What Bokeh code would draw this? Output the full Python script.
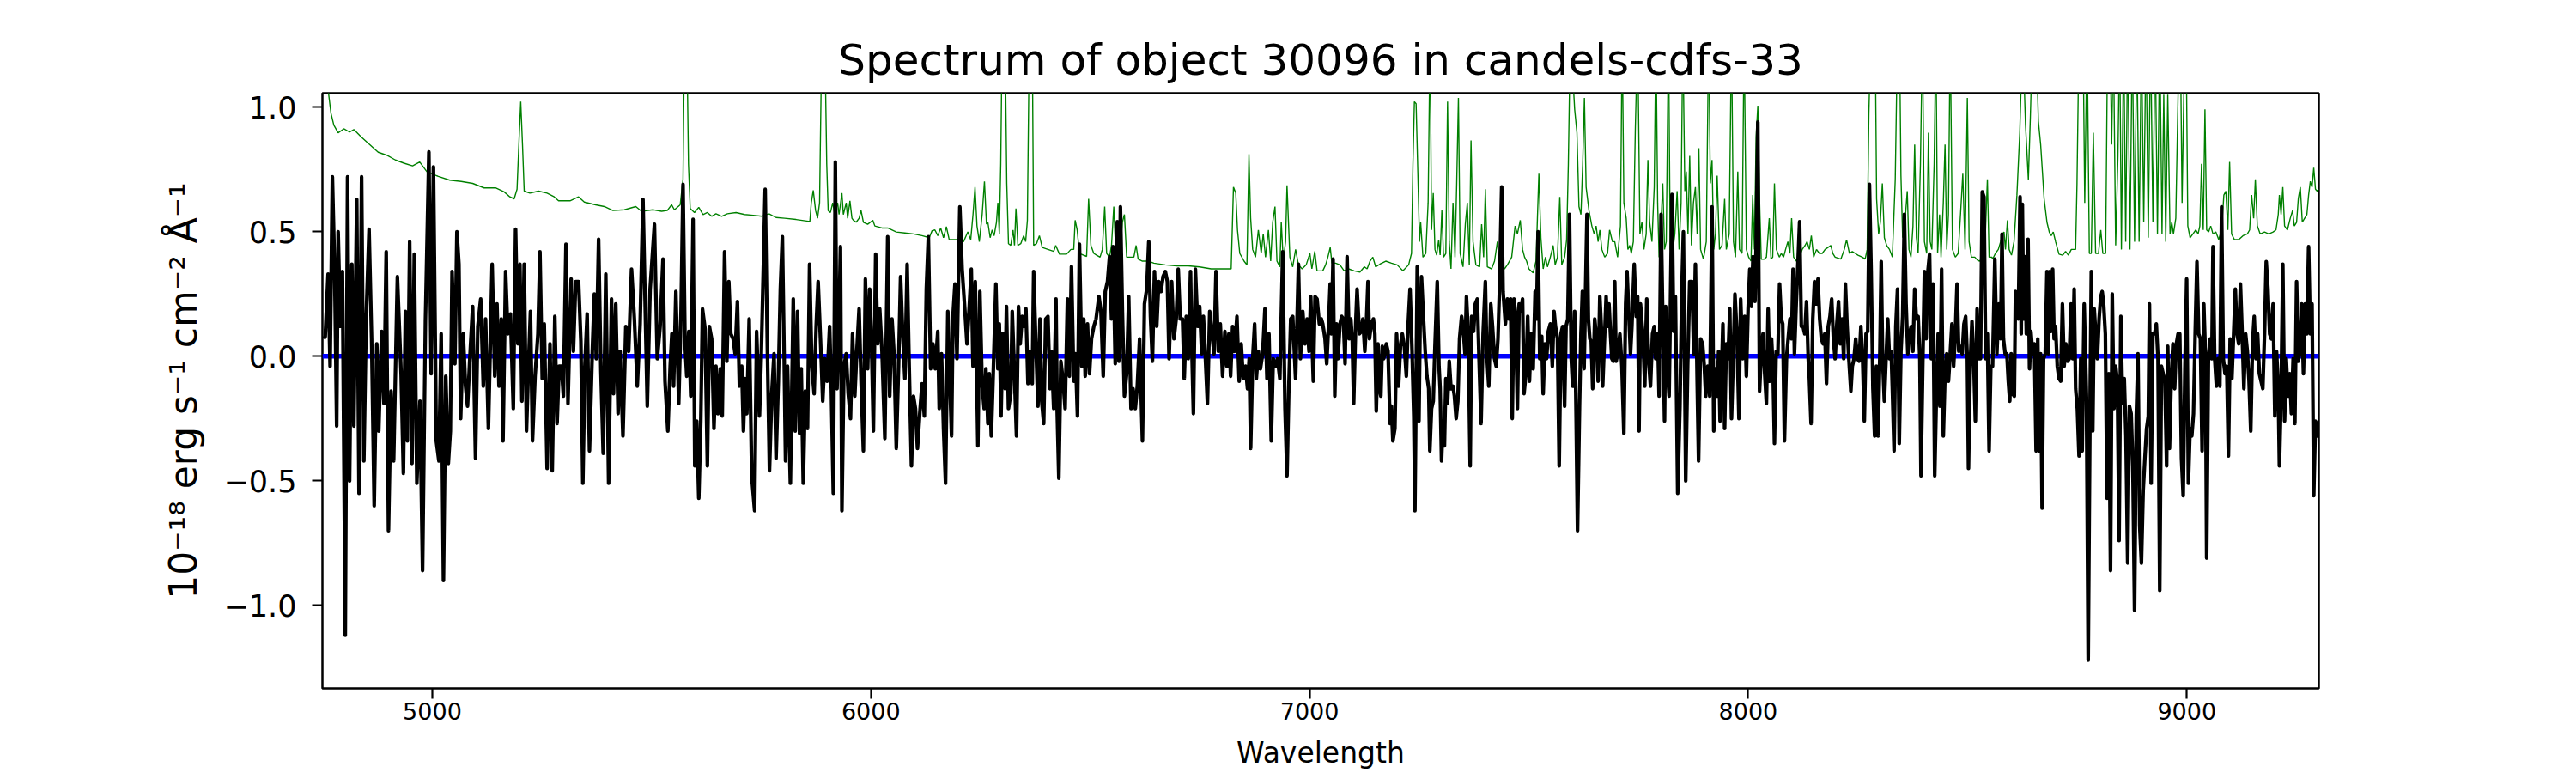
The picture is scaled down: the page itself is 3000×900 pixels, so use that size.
from bokeh.plotting import figure
from bokeh.models import Range1d, FixedTicker, Span
from bokeh.embed import file_html
from bokeh.resources import INLINE

title_text = "Spectrum of object 30096 in candels-cdfs-33"
x_label = "Wavelength"
y_label = "10⁻¹⁸ erg s⁻¹ cm⁻² Å⁻¹"
x_ticks = [5000, 6000, 7000, 8000, 9000]
y_ticks = [-1.0, -0.5, 0.0, 0.5, 1.0]
y_tick_labels = ["−1.0", "−0.5", "0.0", "0.5", "1.0"]
x_limits = (4749.5, 9301.0)
y_limits = (-1.333, 1.056)
zero_level = 0.0

flux_seg1 = [
(4752.7,0.07),(4755.9,0.08),(4762.4,0.33),(4767.0,-0.04),(4772.2,0.72),(4777.4,0.34),(4782.0,-0.28),(4785.3,0.50),(4790.5,0.12),(4795.1,0.34),
(4801.6,-1.12),(4806.8,0.72),(4811.4,-0.50),(4816.6,0.37),(4821.2,-0.28),(4827.7,0.63),(4832.9,-0.55),(4838.8,0.72),(4844.0,-0.42),(4849.2,0.15),
(4855.8,0.51),(4861.6,0.07),(4867.5,-0.60),(4873.4,0.05),(4877.9,-0.30),(4884.5,0.10),(4889.7,-0.19),(4894.9,0.42),(4900.1,-0.70),(4906.0,-0.14),
(4911.9,-0.42),(4920.4,0.32),(4928.9,-0.07),(4934.1,-0.47),(4938.6,0.18),(4943.2,-0.34),(4948.4,0.46),(4953.7,-0.43),(4958.9,0.41),(4964.7,-0.51),
(4971.9,-0.18),(4977.8,-0.86),(4984.3,0.14),(4992.2,0.82),(4997.4,-0.07),(5002.6,0.76),(5009.1,-0.34),(5015.0,-0.42),(5020.2,0.09),(5025.4,-0.90),
(5030.7,-0.08),(5036.5,-0.43),(5041.1,-0.30),(5045.0,0.34),(5051.5,-0.03),(5056.1,0.50),(5060.7,0.37),(5064.6,-0.25),(5070.5,0.09),(5075.7,-0.12),
(5080.3,-0.20),(5085.5,-0.01),(5092.0,0.20),(5098.5,-0.41),(5103.7,0.12),(5110.3,0.23),(5116.2,-0.12),(5121.4,0.15),(5127.9,-0.29),(5136.4,0.37),
(5142.3,-0.08),(5147.5,0.21),(5152.0,-0.12),(5157.2,0.15),(5161.2,-0.34),(5167.1,0.34),(5172.3,0.09),(5178.2,0.17),(5184.7,-0.21),(5189.9,0.51),
(5195.1,0.05),(5199.7,0.37),(5204.3,-0.18),(5209.5,0.37),(5214.7,-0.30),(5219.3,-0.04),(5223.8,0.18),(5228.4,-0.34),(5234.3,-0.08),(5240.8,0.09),
(5245.4,0.42),(5250.6,-0.09),(5255.2,0.13),(5261.7,-0.45),(5268.2,0.05),(5273.4,-0.46),(5279.3,0.16),(5284.5,-0.27),(5289.1,-0.04),(5294.3,-0.04),
(5298.9,-0.16),(5304.7,0.45),(5309.3,-0.19),(5316.5,0.31),(5321.7,0.02),(5326.9,0.30),(5333.5,0.30),(5338.7,0.06),(5343.2,-0.51),(5347.8,-0.04),
(5353.0,0.17),(5358.3,-0.38),(5364.8,0.02),(5369.4,0.25),(5373.9,-0.01),(5379.1,0.47),(5384.4,-0.06),(5389.6,-0.39),(5395.5,0.33),(5402.0,-0.51),
(5408.5,0.23),(5413.1,-0.15),(5418.3,0.21),(5423.5,-0.23),(5428.1,0.02),(5434.6,-0.32),(5441.2,0.12),(5447.7,0.02),(5454.2,0.35),(5460.7,0.15),
(5467.3,-0.12),(5473.8,0.13),(5480.3,0.63),(5490.1,-0.20),(5496.6,0.27),
]
flux_seg2 = [
(5506.4,0.53),(5512.9,-0.01),(5519.4,0.12),(5525.9,0.39),(5530.5,-0.10),(5537.0,-0.30),(5542.3,-0.04),(5546.2,0.09),(5550.1,-0.12),(5555.3,0.26),
(5561.8,-0.19),(5567.1,0.18),(5571.6,0.69),(5576.2,0.05),(5580.1,-0.08),(5584.7,0.10),(5589.2,-0.16),(5594.5,0.55),(5598.4,-0.44),(5602.9,-0.26),
(5607.5,-0.57),(5612.1,-0.26),(5616.0,0.19),(5621.9,0.11),(5627.1,-0.44),(5631.7,0.12),(5636.9,0.07),(5642.1,-0.29),(5646.7,-0.04),(5651.2,-0.23),
(5656.5,-0.05),(5661.0,-0.24),(5666.3,0.42),(5671.5,-0.02),(5676.0,0.30),(5680.6,0.09),(5685.8,0.07),(5690.4,0.01),(5695.6,0.22),(5700.2,-0.12),
(5705.4,-0.04),(5709.3,-0.30),(5713.2,-0.09),(5717.1,-0.23),(5722.4,0.15),(5728.2,-0.48),(5734.8,-0.62),(5739.3,0.10),(5745.9,-0.24),(5749.8,-0.01),
(5758.9,0.67),(5764.1,0.01),(5768.7,-0.46),(5773.9,-0.15),(5779.1,0.01),(5783.7,-0.41),(5788.9,-0.10),(5793.5,0.27),(5798.1,0.48),(5802.0,0.02),
(5805.3,-0.42),(5809.8,-0.04),(5816.3,-0.51),(5822.9,0.23),(5827.4,-0.30),(5832.7,0.18),(5837.2,-0.31),(5841.1,-0.05),(5845.7,-0.51),(5850.3,-0.14),
(5855.5,-0.29),(5860.1,0.37),(5865.3,-0.04),(5870.5,-0.15),(5875.1,0.12),(5879.6,0.30),(5884.9,0.07),(5890.1,-0.18),(5894.7,-0.01),(5899.9,-0.10),
(5905.8,0.12),(5909.7,-0.13),(5914.2,-0.55),(5918.8,0.78),(5922.7,-0.13),(5927.3,0.15),(5930.5,0.44),(5933.8,-0.62),(5938.4,-0.04),(5943.6,0.01),
(5948.2,-0.15),(5953.4,-0.25),(5958.0,0.09),(5963.2,-0.16),(5967.8,0.02),(5973.0,0.19),(5977.5,-0.10),(5982.8,-0.38),(5987.3,0.31),(5992.6,-0.05),
(5997.1,0.27),(6001.1,0.07),(6005.6,-0.30),(6010.8,0.41),(6015.4,0.05),(6020.0,0.19),(6025.2,0.02),(6031.7,-0.33),(6038.2,0.48),(6042.8,-0.16),
(6048.0,0.15),(6052.6,0.01),(6057.8,-0.37),(6063.0,-0.04),(6067.6,0.32),(6072.2,0.10),(6077.4,-0.09),(6082.6,0.37),(6087.2,-0.04),(6092.4,-0.44),
(6097.0,-0.16),(6101.5,-0.21),(6106.1,-0.37),(6111.3,-0.23),(6116.5,-0.11),(6121.8,-0.24),(6126.3,0.27),(6130.9,0.48),(6136.1,-0.05),(6141.3,0.05),
(6146.6,-0.05),(6152.4,0.10),(6155.7,-0.21),(6160.9,0.01),(6165.5,-0.29),(6170.1,-0.51),(6175.3,0.18),(6179.8,-0.09),(6183.8,-0.32),(6187.0,0.16),
(6191.6,0.29),(6196.2,-0.01),(6202.7,0.60),(6207.9,0.35),(6214.4,0.18),(6219.0,0.05),(6224.2,0.20),(6228.8,0.35),(6232.7,-0.04),(6237.9,0.30),
(6243.8,-0.36),(6248.4,0.26),(6253.6,-0.12),(6258.2,-0.21),(6262.1,-0.05),
]
flux_seg3 = [
(6266.6,-0.27),(6269.9,-0.07),(6274.4,-0.32),(6278.3,-0.10),(6284.9,0.29),(6289.4,-0.05),(6292.7,0.13),(6296.6,-0.24),(6300.5,0.09),(6305.8,-0.13),
(6309.0,0.20),(6313.6,-0.21),(6318.8,-0.15),(6322.1,0.18),(6326.6,-0.04),(6331.9,-0.32),(6336.4,0.20),(6340.3,0.05),(6344.9,0.16),(6349.5,0.12),
(6353.4,0.19),(6358.0,-0.11),(6362.5,0.02),(6367.8,-0.11),(6371.0,0.34),(6376.2,0.04),(6380.8,-0.20),(6385.4,0.15),(6389.3,-0.18),(6393.9,-0.27),
(6398.4,0.15),(6403.6,0.16),(6408.2,-0.13),(6411.5,0.02),(6416.7,-0.21),(6421.9,0.23),(6424.5,-0.21),(6428.4,-0.49),(6433.0,-0.02),(6437.6,-0.09),
(6442.8,-0.21),(6448.0,0.23),(6452.6,-0.08),(6457.2,0.36),(6462.4,-0.10),(6466.3,0.01),(6470.9,-0.24),(6475.4,0.45),(6480.7,-0.04),(6485.2,0.15),
(6488.5,-0.08),(6493.7,0.13),(6498.3,-0.07),(6502.8,0.07),(6508.1,0.12),(6513.3,0.15),(6519.8,0.24),(6524.4,0.18),(6529.6,-0.08),(6534.2,0.26),
(6539.4,0.30),(6544.0,0.40),(6548.5,0.15),(6551.8,0.44),(6557.0,-0.03),(6561.6,0.54),(6565.5,-0.02),(6568.8,0.60),(6573.3,0.18),(6577.9,-0.16),
(6583.1,-0.07),(6587.7,0.24),(6592.9,-0.21),(6597.5,-0.13),(6602.7,-0.21),(6607.3,-0.12),(6612.5,0.07),(6619.0,-0.34),(6623.6,0.21),(6628.8,0.27),
(6633.4,0.46),(6637.3,0.16),(6641.8,-0.02),(6646.4,0.34),(6651.6,0.12),(6656.2,0.30),(6661.4,0.26),(6666.0,0.32),(6671.2,0.34),(6675.8,0.30),
(6679.7,-0.01),(6685.6,0.30),(6690.8,0.07),(6696.0,0.15),(6700.6,0.35),(6705.1,0.15),(6710.4,0.15),(6714.3,-0.09),(6718.9,0.16),(6723.4,-0.01),
(6728.6,0.34),(6731.9,0.01),(6735.2,-0.23),(6739.7,0.35),(6745.0,0.12),(6749.5,0.20),(6754.1,0.01),(6758.0,0.16),(6762.6,-0.01),(6767.2,-0.19),
(6772.4,0.18),(6777.6,0.09),(6782.2,0.01),(6786.7,0.34),(6792.0,0.02),(6796.5,0.13),(6801.7,-0.08),(6807.0,0.10),(6811.5,-0.04),(6816.1,0.09),
(6820.0,-0.08),(6824.6,0.12),(6829.1,0.02),(6834.4,0.16),(6839.6,-0.10),(6844.2,0.05),(6848.7,-0.09),(6854.0,-0.04),(6858.5,-0.13),(6862.4,-0.01),
(6865.7,-0.37),(6870.3,-0.01),(6874.8,0.13),(6878.7,-0.09),(6883.3,0.02),(6887.9,-0.05),(6893.1,0.01),(6898.3,0.19),(6902.9,-0.09),(6907.5,0.09),
(6912.7,-0.34),(6917.2,-0.01),(6922.5,-0.04),(6927.0,-0.01),(6932.3,-0.09),(6938.8,0.42),(6944.0,-0.21),(6948.6,-0.48),(6953.1,-0.10),(6957.1,0.15),
(6961.6,0.16),(6968.2,-0.09),(6974.7,0.37),(6979.2,-0.01),(6984.5,0.18),(6989.7,0.05),(6994.3,0.15),(6998.8,0.02),(7002.7,0.24),(7008.6,-0.10),
(7012.5,0.24),(7017.1,0.23),(7022.3,0.13),(7026.9,0.15),
]
flux_seg4 = [
(7030.1,0.13),(7035.3,0.07),(7039.2,-0.03),(7043.2,0.12),(7047.1,0.29),(7049.7,0.09),(7053.6,0.39),(7057.5,-0.16),(7061.4,0.13),(7064.7,-0.01),
(7069.3,0.13),(7073.2,0.16),(7077.1,0.15),(7081.0,-0.03),(7085.6,0.40),(7090.1,0.07),(7094.1,0.15),(7097.3,0.07),(7100.6,-0.19),(7105.2,0.13),
(7108.4,0.27),(7113.6,0.09),(7118.2,0.10),(7121.5,0.15),(7126.0,0.02),(7130.0,0.15),(7133.2,0.30),(7136.5,0.07),(7141.0,0.13),(7145.6,0.15),
(7148.9,0.09),(7152.1,-0.22),(7156.1,0.05),(7159.3,-0.13),(7162.6,-0.16),(7165.8,0.04),(7169.1,-0.01),(7172.4,0.02),(7175.0,0.05),(7178.9,0.02),
(7183.5,-0.27),(7186.7,-0.20),(7190.0,-0.34),(7194.6,-0.29),(7198.5,0.09),(7203.0,-0.12),(7207.6,0.05),(7211.5,0.09),(7216.1,0.04),(7220.7,-0.08),
(7224.6,0.12),(7229.1,0.27),(7233.7,0.02),(7237.6,-0.24),(7240.2,-0.62),(7245.5,0.36),(7249.4,-0.26),(7252.0,0.12),(7255.2,0.32),(7259.8,0.15),
(7263.7,0.02),(7267.6,-0.08),(7271.6,-0.13),(7274.2,-0.38),(7278.1,-0.21),(7282.0,-0.18),(7285.9,0.04),(7291.1,0.30),(7295.1,-0.04),(7297.7,-0.13),
(7300.9,-0.42),(7304.2,-0.26),(7307.5,-0.36),(7310.7,-0.09),(7314.6,-0.19),(7318.5,-0.02),(7322.5,-0.13),(7327.0,-0.12),(7330.3,-0.16),(7334.2,-0.25),
(7338.1,-0.18),(7342.0,0.07),(7346.6,0.16),(7349.9,0.12),(7354.4,0.01),(7357.7,0.24),(7361.6,0.10),(7366.2,-0.44),(7369.5,0.16),(7374.0,0.10),
(7377.9,0.21),(7382.5,0.23),(7386.4,-0.01),(7391.0,-0.27),(7395.6,0.09),(7400.8,0.30),(7404.0,0.01),(7408.6,-0.12),(7413.2,0.21),(7417.1,0.12),
(7421.7,-0.01),(7425.6,-0.04),(7429.5,0.07),(7432.8,0.26),(7438.0,0.68),(7441.2,0.26),(7446.5,0.13),(7451.0,0.23),(7454.3,0.15),(7458.2,0.23),
(7462.1,-0.25),(7466.0,0.23),(7469.3,0.18),(7473.9,-0.21),(7477.8,0.21),(7481.7,0.18),(7485.6,0.23),(7488.9,-0.15),(7493.4,-0.07),(7497.4,0.16),
(7501.3,-0.10),(7505.2,0.09),(7509.8,-0.05),(7514.3,0.26),(7517.6,0.15),(7520.9,0.50),(7524.8,-0.01),(7529.3,0.08),(7532.6,-0.15),(7536.5,0.05),
(7540.4,-0.01),(7544.3,0.10),(7548.9,0.13),(7553.5,-0.04),(7557.4,0.18),(7560.7,0.12),(7565.2,0.07),(7569.1,-0.44),(7573.1,0.09),(7577.0,0.12),
(7581.5,-0.20),(7584.8,0.12),(7588.7,0.15),(7592.6,0.57),(7596.6,-0.01),(7599.8,-0.12),(7604.4,0.18),(7607.7,-0.24),(7610.9,-0.70),(7615.5,-0.20),
(7618.7,0.09),(7622.0,0.26),(7625.9,-0.05),(7629.2,0.26),(7632.5,0.57),(7635.7,0.15),(7639.0,0.07),(7642.2,0.06),(7645.5,-0.13),(7650.1,0.15),
(7653.3,0.09),(7657.9,-0.10),(7661.8,0.24),(7665.1,0.12),(7668.3,-0.12),(7672.9,0.09),(7676.2,0.24),(7679.4,0.12),(7682.7,0.21),(7686.0,0.09),
(7689.2,-0.01),(7692.5,-0.02),(7695.8,0.30),(7699.0,-0.02),(7702.3,0.01),(7707.5,0.09),(7712.1,-0.04),(7716.6,-0.31),(7720.6,0.21),(7723.8,0.34),
(7728.4,0.15),(7731.7,0.01),(7734.9,0.12),(7740.2,0.37),(7744.7,0.16),(7748.0,0.24),(7751.2,-0.30),(7754.5,0.21),(7759.7,0.09),(7764.3,-0.12),
(7768.8,0.23),(7772.8,-0.01),(7777.3,-0.12),(7781.9,0.09),(7785.8,0.12),(7789.1,-0.01),
]
flux_seg5 = [
(7793.6,0.09),(7796.9,-0.16),(7801.4,0.57),(7805.3,0.15),(7809.3,-0.26),(7811.9,0.20),(7816.4,-0.07),(7819.7,-0.16),(7823.0,0.24),(7826.2,0.65),
(7830.1,0.10),(7834.1,0.24),(7839.3,-0.55),(7844.5,-0.20),(7848.4,0.24),(7852.3,0.50),(7857.6,-0.50),(7862.1,-0.04),(7866.7,0.30),(7871.9,0.30),
(7875.8,0.01),(7879.7,0.37),(7883.7,-0.10),(7886.9,-0.42),(7891.5,0.07),(7896.1,0.05),(7899.9,-0.04),(7903.2,-0.16),(7907.8,-0.04),(7912.4,-0.16),
(7917.6,0.60),(7921.5,-0.30),(7925.4,-0.05),(7929.3,-0.16),(7932.6,0.02),(7935.9,-0.26),(7938.5,-0.12),(7942.4,0.13),(7946.3,-0.29),(7950.2,0.05),
(7954.1,-0.01),(7958.1,0.19),(7962.0,-0.25),(7965.9,-0.01),(7969.8,0.25),(7974.4,0.09),(7978.9,-0.25),(7982.9,0.23),(7987.4,-0.01),(7992.0,0.16),
(7995.9,-0.08),(7999.8,0.19),(8003.7,0.35),(8007.7,0.20),(8010.9,0.40),(8015.5,0.22),(8018.1,0.44),(8022.0,0.94),(8025.9,-0.14),(8029.8,0.01),
(8033.8,0.09),(8037.7,-0.07),(8041.6,-0.19),(8045.5,0.19),(8049.4,-0.10),(8053.3,0.07),(8056.6,-0.05),(8059.9,-0.35),(8063.8,0.02),(8067.7,0.01),
(8071.6,0.29),(8075.5,0.15),(8078.8,0.13),(8082.7,-0.34),(8087.3,-0.01),(8091.2,0.07),(8095.1,0.15),(8099.0,0.07),(8102.3,0.35),(8105.5,0.01),
(8109.5,0.21),(8113.4,0.37),(8117.3,0.54),(8121.2,0.12),(8125.1,0.12),(8129.0,0.09),(8133.0,0.22),(8136.9,-0.01),(8139.5,-0.09),(8143.4,-0.27),
(8147.3,0.15),(8151.2,0.30),(8155.1,0.21),(8159.1,0.31),(8163.0,0.15),(8166.9,0.07),(8170.8,0.05),(8174.7,0.09),(8178.6,-0.11),(8182.5,0.12),
(8186.5,0.16),(8190.4,0.23),(8194.3,0.07),(8198.2,-0.01),(8202.1,0.13),(8206.0,0.22),(8210.0,0.05),(8213.9,0.15),(8217.8,-0.01),(8221.7,0.29),
(8225.6,0.12),(8229.5,-0.01),(8234.1,-0.14),(8237.4,-0.04),(8241.3,-0.01),(8245.2,0.07),(8249.1,-0.01),(8253.0,-0.02),(8257.0,0.12),(8260.9,-0.01),
(8264.8,-0.26),(8268.7,0.09),(8272.6,0.10),(8276.5,0.69),(8280.4,0.34),(8284.4,-0.13),(8288.3,-0.32),(8292.2,-0.04),(8296.1,-0.32),(8300.0,-0.01),
(8303.3,0.38),(8306.5,-0.01),(8310.5,-0.18),(8314.4,-0.01),(8318.3,0.15),(8322.2,-0.01),(8326.1,0.02),(8328.7,-0.13),(8332.6,-0.38),(8336.6,0.12),
(8340.5,0.27),(8344.4,-0.35),(8348.3,0.02),(8352.2,0.16),(8356.1,0.57),(8360.0,0.21),(8364.0,0.01),(8367.9,0.09),(8371.8,0.12),(8375.7,0.02),
(8379.6,0.27),(8383.5,0.15),(8387.5,0.16),(8391.4,-0.01),(8394.0,-0.48),(8397.9,-0.05),(8401.8,0.34),(8405.7,0.07),(8409.7,0.34),(8413.6,0.41),
(8417.5,-0.01),(8421.4,0.29),(8425.3,-0.48),(8429.2,-0.15),(8433.1,0.09),(8437.1,-0.20),(8441.0,0.35),(8444.9,-0.32),(8448.8,-0.07),(8452.7,0.01),
(8456.6,-0.10),(8460.6,0.01),(8464.5,0.13),(8468.4,-0.04),(8472.3,0.09),(8476.2,0.29),(8480.1,0.02),(8484.1,0.04),(8488.0,0.01),(8491.9,0.13),
(8495.8,0.16),(8499.7,-0.01),(8502.3,-0.45),(8506.2,-0.04),(8510.2,0.14),(8514.1,-0.01),(8518.0,-0.26),(8521.9,0.19),(8525.8,-0.01),(8529.7,-0.01),
(8533.7,0.66),(8537.6,0.64),(8541.5,-0.01),(8545.4,0.09),(8549.3,-0.38),(8553.2,-0.04),
]
flux_seg6 = [
(8557.2,-0.04),(8562.4,0.39),(8567.0,0.01),(8571.6,0.21),(8575.5,0.07),(8578.7,0.49),(8582.0,0.07),(8585.9,0.01),(8589.8,0.01),(8593.1,-0.10),
(8596.4,-0.18),(8599.6,0.01),(8602.9,-0.15),(8606.8,-0.16),(8609.4,0.26),(8613.3,0.25),(8615.9,0.15),(8619.9,0.64),(8622.5,0.09),(8625.1,0.61),
(8627.7,0.15),(8630.9,0.40),(8634.2,0.09),(8638.1,0.47),(8641.4,-0.05),(8644.6,0.10),(8648.6,0.01),(8652.5,0.05),(8656.4,-0.38),(8660.3,0.07),
(8663.6,-0.38),(8666.8,0.01),(8670.1,-0.61),(8673.4,-0.01),(8677.3,0.01),(8681.2,0.34),(8684.5,0.01),(8687.7,0.34),(8691.0,0.10),(8694.2,0.35),
(8697.5,0.07),(8700.8,0.12),(8704.7,-0.04),(8708.6,-0.09),(8712.5,-0.10),(8716.4,0.21),(8720.4,-0.04),(8724.3,0.05),(8728.2,-0.02),(8732.1,-0.01),
(8736.0,0.21),(8739.9,-0.01),(8743.2,0.27),(8746.5,-0.13),(8750.4,-0.21),(8754.3,-0.40),(8758.2,-0.01),(8761.5,-0.38),(8766.0,0.21),(8771.2,-0.16),
(8775.2,-1.22),(8779.1,-0.26),(8782.3,0.34),(8785.6,-0.30),(8788.9,0.19),(8792.1,0.10),(8796.0,-0.01),(8800.0,0.15),(8803.9,0.24),(8807.1,0.26),
(8810.4,0.21),(8814.3,0.09),(8818.2,-0.57),(8822.2,-0.07),(8826.1,-0.86),(8830.0,0.25),(8833.9,-0.21),(8837.8,-0.04),(8841.7,-0.10),(8845.6,-0.74),
(8849.6,0.16),(8853.5,-0.19),(8857.4,-0.09),(8861.3,-0.32),(8865.2,-0.83),(8869.1,-0.20),(8873.1,-0.23),(8877.0,-0.44),(8880.9,-1.02),(8884.8,-0.24),
(8888.7,0.01),(8892.6,-0.68),(8896.5,-0.83),(8900.5,-0.54),(8904.4,-0.41),(8908.3,-0.29),(8912.2,-0.24),(8914.8,0.21),(8918.7,-0.51),(8922.7,0.09),
(8926.6,0.09),(8930.5,0.13),(8934.4,-0.01),(8938.3,-0.94),(8942.2,-0.04),(8946.2,-0.07),(8950.1,-0.10),(8954.0,-0.44),(8956.6,0.04),(8960.5,-0.37),
(8964.4,-0.10),(8968.3,0.05),(8972.3,-0.13),(8976.2,0.05),(8980.1,0.09),(8984.0,0.09),(8987.9,-0.41),(8991.8,-0.56),(8995.7,-0.05),(8999.7,0.31),
(9003.6,-0.51),(9007.5,-0.29),(9011.4,-0.32),(9015.3,-0.23),(9019.2,0.10),(9023.1,0.38),(9027.1,0.09),(9031.0,0.07),(9034.9,-0.38),(9038.8,0.21),
(9042.7,-0.01),(9045.3,-0.81),(9049.3,-0.01),(9053.2,0.07),(9057.1,-0.01),(9059.7,0.44),(9063.6,-0.01),(9067.5,-0.12),(9071.4,-0.01),(9075.4,-0.12),
(9079.3,0.60),(9083.2,-0.01),(9087.1,-0.07),(9091.0,-0.04),(9094.9,-0.40),(9098.8,0.07),(9102.8,-0.09),(9106.7,0.09),(9110.6,0.27),(9114.5,0.09),
(9118.4,0.05),(9122.3,0.29),(9126.3,0.09),(9130.2,-0.13),(9134.1,0.09),(9138.0,0.02),(9141.9,-0.10),(9145.8,-0.30),(9149.8,0.05),(9153.7,0.16),
(9157.6,-0.01),(9161.5,0.09),(9165.4,-0.07),(9169.3,-0.10),(9173.3,-0.13),(9177.2,0.09),(9181.1,0.38),(9185.0,0.27),(9188.9,0.09),(9192.8,0.07),
(9196.7,0.21),(9200.7,-0.24),(9204.6,0.02),(9208.5,-0.12),(9211.1,-0.44),(9215.0,-0.16),(9218.9,0.37),(9222.9,-0.26),(9226.8,-0.01),(9230.7,-0.16),
(9234.6,-0.07),(9238.5,-0.23),(9242.4,-0.01),(9246.4,-0.27),(9250.3,0.30),(9254.2,-0.02),(9258.1,0.02),(9262.0,0.21),(9265.9,-0.07),(9269.8,0.21),
(9273.8,0.09),(9277.7,0.44),(9281.6,0.09),(9285.5,0.21),(9289.4,-0.56),(9293.3,-0.26),(9297.3,-0.32),(9301.2,-0.26),
]

# uncertainty / sky spectrum (wavelength, value); values above the top of the axes are clipped
err_seg1 = [
(4749.5,1.30),(4752.7,1.30),(4762.4,1.07),(4769.0,0.975),(4775.5,0.928),(4785.3,0.897),(4798.3,0.913),(4811.4,0.900),(4821.2,0.910),(4837.5,0.881),
(4857.1,0.850),(4876.6,0.819),(4896.2,0.807),(4915.8,0.788),(4935.4,0.775),(4955.0,0.764),(4971.3,0.780),(4987.6,0.741),(5013.7,0.722),(5039.8,0.707),
(5065.9,0.702),(5092.0,0.694),(5118.1,0.676),(5144.2,0.676),(5163.8,0.660),(5176.8,0.640),(5186.6,0.632),(5193.2,0.671),(5197.7,0.866),(5201.6,1.022),
(5205.6,0.850),(5209.5,0.663),(5222.5,0.655),(5242.1,0.663),(5261.7,0.655),(5278.0,0.640),(5287.8,0.624),(5313.9,0.624),(5333.5,0.640),(5346.5,0.619),
(5372.6,0.608),(5392.2,0.601),(5411.8,0.585),(5437.9,0.588),(5464.0,0.601),(5477.0,0.582),
]
err_seg2 = [
(5503.1,0.588),(5522.7,0.582),(5535.7,0.585),(5545.5,0.608),(5552.0,0.588),(5565.1,0.608),(5571.6,0.710),(5574.9,1.30),(5580.1,1.30),(5584.0,0.772),
(5588.0,0.593),(5597.7,0.577),(5607.5,0.598),(5617.3,0.569),(5627.1,0.577),(5636.9,0.562),(5646.7,0.572),(5659.7,0.562),(5672.8,0.572),(5692.4,0.577),
(5711.9,0.569),(5731.5,0.566),(5751.1,0.562),(5767.4,0.572),(5783.7,0.557),(5803.3,0.554),(5829.4,0.549),(5860.7,0.541),(5864.0,0.616),(5868.5,0.666),
(5873.8,0.585),(5878.3,0.554),(5882.9,0.616),(5888.1,1.30),(5894.7,1.30),(5899.2,0.772),(5902.5,0.585),(5907.7,0.577),(5912.9,0.616),(5917.5,0.569),
(5924.0,0.616),(5927.3,0.569),(5933.8,0.655),(5937.1,0.569),(5943.6,0.616),(5946.9,0.554),(5952.1,0.624),(5956.7,0.554),(5959.9,0.546),(5966.4,0.538),
(5973.0,0.554),(5977.5,0.585),(5982.8,0.538),(5992.6,0.530),(6004.3,0.546),(6008.9,0.523),(6025.2,0.515),(6038.2,0.515),(6057.8,0.499),(6077.4,0.495),
(6097.0,0.491),(6116.5,0.484),(6132.9,0.476),(6139.4,0.504),(6145.9,0.507),(6152.4,0.484),(6159.0,0.515),(6165.5,0.476),(6172.0,0.520),(6178.5,0.468),
(6188.3,0.468),(6201.4,0.468),(6211.2,0.460),(6220.9,0.499),(6227.5,0.468),(6232.7,0.569),(6237.3,0.679),(6241.8,0.523),(6247.1,0.460),(6253.6,0.569),
(6258.8,0.702),(6263.4,0.530),
]
err_seg3 = [
(6266.6,0.538),(6271.8,0.476),(6276.4,0.507),(6280.9,0.484),(6286.2,0.538),(6289.4,0.616),(6292.7,0.491),(6296.0,0.772),(6299.2,1.30),(6305.8,1.30),
(6309.7,0.694),(6313.6,0.452),(6318.8,0.445),(6324.0,0.507),(6327.3,0.445),(6330.6,0.593),(6335.1,0.445),(6341.6,0.452),(6348.2,0.484),(6352.7,0.460),
(6356.7,0.546),(6361.2,1.30),(6367.8,1.30),(6371.0,0.445),(6377.5,0.452),(6384.1,0.484),(6390.6,0.437),(6403.6,0.429),(6416.7,0.421),(6421.3,0.445),
(6429.8,0.410),(6446.1,0.410),(6455.9,0.429),(6462.4,0.429),(6465.6,0.546),(6470.2,0.507),(6475.4,0.413),(6491.7,0.401),(6496.3,0.632),(6501.5,0.445),
(6508.1,0.413),(6514.6,0.406),(6522.4,0.398),(6527.6,0.429),(6532.9,0.601),(6537.4,0.413),(6544.0,0.398),(6548.5,0.445),(6553.7,0.601),(6558.3,0.413),
(6563.5,0.538),(6568.1,0.429),(6573.3,0.538),(6577.9,0.569),(6583.1,0.398),(6592.9,0.398),(6599.4,0.398),(6604.6,0.445),(6609.2,0.390),(6619.0,0.382),
(6632.1,0.382),(6645.1,0.374),(6671.2,0.367),(6697.3,0.363),(6723.4,0.363),(6749.5,0.359),(6775.6,0.351),(6801.7,0.351),(6821.3,0.351),(6826.5,0.679),
(6831.7,0.655),(6835.7,0.507),(6840.9,0.413),(6850.7,0.382),(6857.2,0.367),(6861.8,0.811),(6865.7,0.554),(6870.3,0.429),(6876.8,0.398),(6883.3,0.507),
(6889.8,0.413),(6894.4,0.491),(6899.6,0.398),(6906.2,0.507),(6911.4,0.382),(6916.0,0.538),(6921.2,0.601),(6925.7,0.382),(6932.3,0.359),(6935.5,0.538),
(6940.1,0.382),(6945.3,0.460),(6948.6,0.686),(6955.1,0.398),(6961.6,0.359),(6968.2,0.429),(6974.7,0.367),(6983.1,0.351),(6992.3,0.367),(7000.8,0.413),
(7005.3,0.351),(7011.9,0.421),(7017.1,0.343),
]
err_seg4 = [
(7030.1,0.343),(7036.6,0.367),(7041.8,0.398),(7047.1,0.437),(7051.0,0.374),(7059.5,0.374),(7069.3,0.367),(7079.0,0.343),(7088.8,0.351),(7101.9,0.343),
(7114.9,0.338),(7124.7,0.359),(7131.3,0.351),(7137.8,0.382),(7144.3,0.398),(7150.8,0.359),(7160.6,0.370),(7173.7,0.382),(7186.7,0.374),(7199.8,0.367),
(7212.8,0.343),(7225.9,0.367),(7232.4,0.413),(7235.7,0.772),(7239.0,1.022),(7242.9,1.014),(7246.8,0.741),(7250.7,0.460),(7253.3,0.538),(7258.5,0.398),
(7265.0,0.413),(7270.3,0.616),(7274.8,1.30),(7278.1,0.507),(7282.0,0.655),(7285.9,0.429),(7289.8,0.406),(7294.4,0.468),(7297.7,0.406),(7301.6,0.585),
(7305.5,0.398),(7310.7,0.413),(7314.6,1.022),(7318.5,0.460),(7322.5,0.351),(7327.0,0.616),(7331.6,0.398),(7335.5,0.694),(7339.4,1.037),(7343.3,0.413),
(7349.9,0.359),(7355.1,0.530),(7359.7,0.616),(7364.2,0.367),(7368.1,0.866),(7372.7,0.460),(7379.2,0.367),(7387.7,0.359),(7392.3,0.530),(7396.9,0.398),
(7400.8,0.671),(7405.3,0.359),(7415.1,0.351),(7421.7,0.382),(7428.2,0.460),(7433.4,0.367),(7444.5,0.351),(7451.0,0.367),(7460.8,0.398),(7468.6,0.523),
(7473.9,0.491),(7480.4,0.546),(7485.6,0.429),(7490.2,0.398),(7494.8,0.382),(7500.0,0.351),(7509.8,0.335),(7516.3,0.382),(7522.8,0.733),(7527.4,0.476),
(7532.6,0.351),(7537.8,0.398),(7542.4,0.359),(7548.9,0.398),(7555.4,0.445),(7560.0,0.367),(7565.2,0.398),(7570.5,0.640),(7575.0,0.367),(7581.5,0.398),
(7586.1,0.468),(7590.0,0.772),(7594.6,1.30),(7604.4,0.991),(7609.6,0.897),(7614.2,0.601),(7618.7,0.569),(7622.7,0.772),(7626.6,1.037),(7630.5,0.679),
(7637.0,0.585),(7643.6,0.523),(7648.8,0.491),(7653.3,0.523),(7657.9,0.460),(7661.8,0.507),(7666.4,0.429),(7672.9,0.398),(7679.4,0.413),(7684.0,0.507),
(7690.5,0.460),(7695.8,0.460),(7702.3,0.398),(7708.8,0.523),(7712.7,1.30),(7716.6,0.616),(7721.9,0.554),(7725.8,0.429),(7729.7,0.445),(7733.6,0.413),
(7738.2,0.460),(7742.7,0.913),(7748.0,1.30),(7753.2,0.491),(7757.7,0.538),(7762.3,0.429),(7767.5,0.491),(7771.4,0.788),(7775.4,0.538),(7780.6,0.460),
(7785.8,0.679),(7789.7,1.30),
]
err_seg5 = [
(7793.6,0.616),(7796.9,0.398),(7801.4,0.538),(7805.3,0.694),(7809.3,0.429),(7813.2,0.460),(7818.4,1.30),(7822.3,0.429),(7827.5,0.413),(7832.8,0.491),
(7838.0,0.663),(7842.5,0.429),(7847.1,0.616),(7851.0,1.30),(7855.6,0.663),(7858.9,0.741),(7862.8,0.491),(7866.7,0.804),(7870.6,0.445),(7875.2,0.616),
(7879.7,0.679),(7883.7,0.491),(7887.6,0.835),(7891.5,0.429),(7898.0,0.390),(7904.5,0.460),(7909.8,1.30),(7913.7,0.694),(7917.6,0.788),(7921.5,0.429),
(7925.4,0.491),(7929.3,0.725),(7934.6,0.429),(7940.4,0.445),(7946.3,0.632),(7950.2,0.429),(7956.7,0.491),(7962.0,1.30),(7966.5,0.460),(7971.1,0.398),
(7976.3,0.741),(7980.2,0.429),(7986.1,0.413),(7990.7,1.30),(7995.9,0.429),(8001.1,0.398),(8006.4,0.382),(8010.3,0.647),(8014.2,0.429),(8018.1,0.881),
(8022.0,1.006),(8025.9,0.632),(8029.8,0.390),(8036.4,0.390),(8041.6,0.398),(8048.1,0.554),(8052.0,0.390),(8055.9,0.398),(8059.9,0.694),(8064.4,0.429),
(8071.0,0.398),(8075.5,0.413),(8080.7,0.398),(8085.3,0.429),(8090.5,0.460),(8095.1,0.413),(8099.0,0.554),(8103.6,0.398),(8110.1,0.382),(8116.6,0.398),
(8123.2,0.429),(8129.7,0.445),(8134.3,0.460),(8139.5,0.429),(8144.0,0.484),(8149.3,0.398),(8155.8,0.429),(8162.3,0.413),(8168.9,0.413),(8175.4,0.429),
(8181.9,0.437),(8188.4,0.445),(8193.0,0.413),(8198.2,0.398),(8211.3,0.390),(8219.1,0.429),(8224.3,0.468),(8230.9,0.413),(8237.4,0.421),(8243.9,0.413),
(8250.4,0.406),(8260.2,0.398),(8266.7,0.390),(8271.3,0.429),(8275.2,0.975),(8279.8,1.30),(8289.6,1.30),(8292.8,0.632),(8297.4,0.491),(8301.3,0.538),
(8305.9,0.694),(8310.5,0.476),(8315.7,0.445),(8322.2,0.429),(8328.7,0.398),(8335.3,0.710),(8340.5,1.30),(8345.0,1.30),(8348.3,0.725),(8352.2,0.476),
(8358.7,0.569),(8362.7,0.663),(8366.6,0.429),(8371.1,0.398),(8375.7,0.522),(8379.6,0.850),(8383.5,0.476),(8387.5,0.413),(8392.7,0.772),(8397.3,1.30),
(8401.8,0.460),(8407.1,0.413),(8411.0,0.897),(8414.9,0.460),(8418.8,0.429),(8424.0,0.772),(8428.0,1.30),(8431.9,0.413),(8436.4,0.569),(8439.7,0.398),
(8444.9,0.616),(8448.8,0.850),(8452.7,0.429),(8456.6,0.569),(8460.6,1.30),(8465.8,0.429),(8472.3,0.398),(8478.8,0.413),(8484.1,0.569),(8489.3,0.733),
(8494.5,0.429),(8499.7,1.037),(8503.7,0.460),(8508.9,0.398),(8516.7,0.398),(8523.2,0.385),(8527.8,0.382),(8534.3,0.398),(8538.8,0.398),(8545.4,0.710),
(8549.3,0.398),(8555.8,0.398),
]
err_seg6 = [
(8557.2,0.390),(8563.7,0.413),(8570.3,0.429),(8575.5,0.460),(8580.0,0.491),(8583.3,0.499),(8586.6,0.429),(8591.1,0.546),(8595.0,0.429),(8600.3,0.406),
(8606.1,0.460),(8612.7,0.647),(8619.2,0.897),(8625.7,1.30),(8632.3,0.928),(8638.8,0.710),(8643.3,0.959),(8648.6,1.30),(8656.4,1.30),(8661.6,0.944),
(8666.8,0.850),(8671.4,0.725),(8674.7,0.632),(8681.2,0.538),(8686.4,0.499),(8691.0,0.484),(8695.6,0.499),(8700.8,0.460),(8708.6,0.410),(8717.1,0.406),
(8723.6,0.421),(8730.1,0.406),(8736.7,0.429),(8746.5,0.429),(8749.7,0.694),(8754.3,1.30),(8763.4,1.30),(8767.3,0.616),(8772.6,1.30),(8777.8,0.413),
(8782.3,0.413),(8786.9,0.897),(8792.1,0.413),(8798.7,0.413),(8803.9,0.507),(8808.5,0.413),(8815.0,0.413),(8819.5,1.30),(8824.8,1.30),(8828.7,0.850),
(8832.6,1.30),(8837.8,0.445),(8843.0,0.804),(8846.9,1.30),(8850.9,0.429),(8856.1,1.30),(8860.7,0.460),(8865.2,1.30),(8870.4,0.429),(8875.7,1.30),
(8880.9,0.460),(8886.1,1.30),(8891.3,0.460),(8896.6,1.30),(8901.8,0.538),(8907.0,1.30),(8912.2,0.476),(8917.4,1.30),(8922.7,0.538),(8927.9,1.30),
(8933.1,0.491),(8938.3,1.30),(8943.5,0.491),(8947.5,1.05),(8952.0,0.460),(8956.6,1.05),(8961.8,0.491),(8965.7,0.538),(8969.6,0.491),(8974.9,0.554),
(8980.1,1.05),(8985.3,1.30),(8989.2,0.616),(8993.1,1.05),(8998.4,1.30),(9002.3,0.523),(9007.5,0.476),(9014.0,0.491),(9020.6,0.507),(9025.8,0.491),
(9029.7,0.523),(9033.6,0.772),(9037.5,0.507),(9041.4,0.991),(9045.3,0.507),(9049.9,0.499),(9054.5,0.523),(9059.7,0.491),(9066.2,0.499),(9072.8,0.468),
(9079.3,0.507),(9084.5,0.647),(9089.1,0.663),(9093.6,0.507),(9097.6,0.780),(9102.1,0.491),(9108.6,0.468),(9118.4,0.468),(9128.2,0.484),(9138.0,0.491),
(9143.2,0.507),(9147.8,0.647),(9152.4,0.554),(9156.3,0.710),(9160.8,0.523),(9167.4,0.491),(9177.2,0.499),(9187.0,0.491),(9196.7,0.499),(9203.3,0.507),
(9208.5,0.569),(9211.1,0.647),(9215.0,0.569),(9218.9,0.679),(9222.9,0.523),(9229.4,0.507),(9235.9,0.554),(9241.1,0.585),(9245.1,0.523),(9250.3,0.538),
(9254.2,0.632),(9258.8,0.679),(9263.3,0.538),(9268.6,0.554),(9273.8,0.569),(9277.7,0.647),(9281.6,0.702),(9285.5,0.679),(9289.4,0.757),(9293.3,0.671),
(9297.3,0.663),(9301.2,0.671),
]

flux_all = flux_seg1 + flux_seg2 + flux_seg3 + flux_seg4 + flux_seg5 + flux_seg6
err_all = err_seg1 + err_seg2 + err_seg3 + err_seg4 + err_seg5 + err_seg6
flux_wave = [w for w, f in flux_all]
flux_val = [f for w, f in flux_all]
err_wave = [w for w, e in err_all]
err_val = [e for w, e in err_all]

FONT = "DejaVu Sans"

p = figure(
    frame_width=2325, frame_height=693,
    x_range=Range1d(*x_limits), y_range=Range1d(*y_limits),
    output_backend="svg", toolbar_location=None,
    min_border_left=375, min_border_right=292,
    min_border_top=108, min_border_bottom=40,
    title=title_text,
)
p.background_fill_color = "white"
p.border_fill_color = "white"
p.outline_line_color = "black"
p.outline_line_width = 2.5
p.outline_line_alpha = 1.0
p.xgrid.visible = False
p.ygrid.visible = False

p.title.text_font = FONT
p.title.text_font_size = "50px"
p.title.text_font_style = "normal"
p.title.text_color = "black"
p.title.align = "center"
p.title.standoff = 20

for ax in (p.xaxis[0], p.yaxis[0]):
    ax.axis_line_color = None
    ax.major_tick_out = 12
    ax.major_tick_in = 0
    ax.minor_tick_out = 0
    ax.minor_tick_in = 0
    ax.major_tick_line_color = "black"
    ax.major_tick_line_width = 2.2
    ax.major_label_text_font = FONT
    ax.major_label_text_color = "black"
    ax.axis_label_text_font = FONT
    ax.axis_label_text_color = "black"
    ax.axis_label_text_font_style = "normal"

p.xaxis.ticker = FixedTicker(ticks=x_ticks)
p.xaxis.major_label_overrides = {t: str(t) for t in x_ticks}
p.xaxis.major_label_text_font_size = "27px"
p.xaxis.major_label_standoff = 4
p.xaxis.axis_label = x_label
p.xaxis.axis_label_text_font_size = "33px"
p.xaxis.axis_label_standoff = 16

p.yaxis.ticker = FixedTicker(ticks=y_ticks)
p.yaxis.major_label_overrides = dict(zip(y_ticks, y_tick_labels))
p.yaxis.major_label_text_font_size = "35px"
p.yaxis.major_label_standoff = 18
p.yaxis.axis_label = y_label
p.yaxis.axis_label_text_font_size = "44px"
p.yaxis.axis_label_standoff = 19

zero_line = Span(location=zero_level, dimension="width", line_color="#0000ff",
                 line_width=5.5, level="underlay")
p.add_layout(zero_line)

p.line(err_wave, err_val, line_color="#008000", line_width=1.4)
p.line(flux_wave, flux_val, line_color="black", line_width=4.2, line_join="round")

open("out.html", "w").write(file_html(p, INLINE, title=title_text))
